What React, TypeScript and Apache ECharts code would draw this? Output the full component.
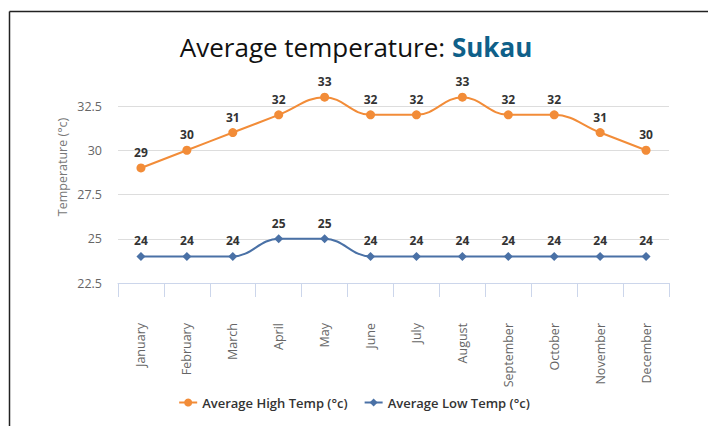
import React, { useEffect, useRef } from "react";
import * as echarts from "echarts";

const months = ["January", "February", "March", "April", "May", "June", "July", "August", "September", "October", "November", "December"];
const highTemps = [29, 30, 31, 32, 33, 32, 32, 33, 32, 32, 31, 30];
const lowTemps = [24, 24, 24, 25, 25, 24, 24, 24, 24, 24, 24, 24];
const seriesNames = ["Average High Temp (°c)", "Average Low Temp (°c)"];
const titleMain = "Average temperature: ";
const titlePlace = "Sukau";
const yAxisTitle = "Temperature (°c)";

export default function App() {
  const ref = useRef<HTMLDivElement>(null);
  useEffect(() => {
    if (!ref.current) return;
    const chart = echarts.init(ref.current, null, { renderer: "svg" });
    const labelStyle = {
      show: true,
      position: "top",
      distance: 5,
      color: "#333",
      fontWeight: "bold",
      fontSize: 12,
      fontFamily: "Open Sans",
    };
    chart.setOption({
      animation: false,
      backgroundColor: "#fff",
      title: {
        text: `{a|${titleMain}}{b|${titlePlace}}`,
        left: 351,
        textAlign: "center",
        top: 29,
        textStyle: {
          rich: {
            a: { fontSize: 26, fontFamily: "Open Sans", color: "#111", fontWeight: "normal" },
            b: { fontSize: 26, fontFamily: "Open Sans", color: "#0f6089", fontWeight: "bold" },
          },
        },
      },
      graphic: [
        { type: "line", shape: { x1: 9.5, y1: 11.5, x2: 708, y2: 11.5 }, style: { stroke: "#222", lineWidth: 1.5 } },
        { type: "line", shape: { x1: 9.5, y1: 11.5, x2: 9.5, y2: 426 }, style: { stroke: "#222", lineWidth: 1.5 } },
        {
          type: "text",
          x: 62,
          y: 167,
          rotation: Math.PI / 2,
          style: {
            text: yAxisTitle,
            fill: "#777",
            fontSize: 12.5,
            fontFamily: "Open Sans",
            align: "center",
            verticalAlign: "middle",
          },
        },
      ],
      legend: {
        bottom: 12,
        left: "center",
        orient: "horizontal",
        itemGap: 16,
        itemWidth: 18,
        itemHeight: 10,
        textStyle: { color: "#333", fontSize: 13, fontWeight: 600, fontFamily: "Open Sans" },
        data: seriesNames,
      },
      grid: { left: 118, right: 39, top: 106, bottom: 143 },
      xAxis: {
        type: "category",
        data: months,
        boundaryGap: true,
        axisLine: { lineStyle: { color: "#ccd6eb" } },
        axisTick: { show: true, length: 14, lineStyle: { color: "#ccd6eb" } },
        axisLabel: { rotate: 90, margin: 40, color: "#666", fontSize: 12.5, fontFamily: "Open Sans", interval: 0 },
      },
      yAxis: {
        type: "value",
        min: 22.5,
        max: 32.5,
        interval: 2.5,
        axisLine: { show: false },
        axisTick: { show: false },
        axisLabel: { color: "#666", fontSize: 12.5, fontFamily: "Open Sans", margin: 16 },
        splitLine: { lineStyle: { color: "#dddddd" } },
      },
      series: [
        {
          name: seriesNames[0],
          type: "line",
          data: highTemps,
          smooth: 0.4,
          clip: false,
          symbol: "circle",
          symbolSize: 9,
          color: "#f28c38",
          lineStyle: { width: 2, color: "#f28c38" },
          itemStyle: { color: "#f28c38" },
          label: labelStyle,
        },
        {
          name: seriesNames[1],
          type: "line",
          data: lowTemps,
          smooth: 0.4,
          clip: false,
          symbol: "diamond",
          symbolSize: 9,
          color: "#4a71a6",
          lineStyle: { width: 2, color: "#4a71a6" },
          itemStyle: { color: "#4a71a6" },
          label: labelStyle,
        },
      ],
    });
    return () => chart.dispose();
  }, []);
  return <div ref={ref} style={{ position: "fixed", left: 0, top: 0, width: 708, height: 426 }} />;
}
